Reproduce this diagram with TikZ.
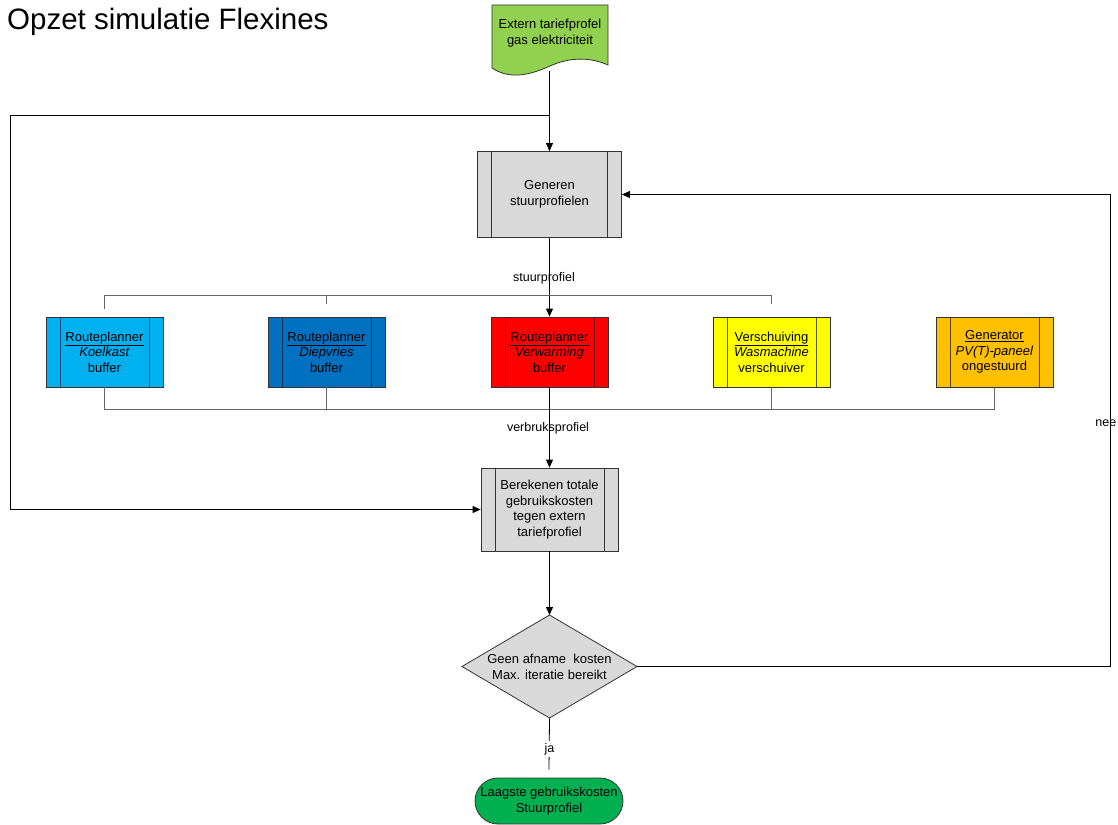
\documentclass[tikz,border=0pt]{standalone}
\usepackage{fontspec}
\setmainfont{Liberation Sans}
\usetikzlibrary{shapes.geometric,arrows.meta,calc}
\definecolor{docgreen}{HTML}{92D050}
\definecolor{procgray}{HTML}{D9D9D9}
\definecolor{koelblue}{HTML}{00B0F0}
\definecolor{diepblue}{HTML}{0070C0}
\definecolor{verwred}{HTML}{FF0000}
\definecolor{wasyellow}{HTML}{FFFF00}
\definecolor{genorange}{HTML}{FFC000}
\definecolor{endgreen}{HTML}{00B050}
\begin{document}
\begin{tikzpicture}[x=1pt,y=1pt,
  font=\fontsize{13}{15.5}\selectfont,
  procbox/.style={draw=black!80, line width=0.8pt, rectangle, align=center, inner sep=0pt,
    path picture={\draw[line width=0.8pt, draw=#1]
      ([xshift=14pt]path picture bounding box.north west) -- ([xshift=14pt]path picture bounding box.south west)
      ([xshift=-14pt]path picture bounding box.north east) -- ([xshift=-14pt]path picture bounding box.south east);}},
  procbox/.default=black!80,
  rowbox/.style={procbox=#1, minimum width=117, minimum height=70},
  conn/.style={draw=black, line width=0.8pt},
  arr/.style={conn, -{Triangle[length=8pt,width=7pt]}},
  bus/.style={draw=black!60, line width=0.8pt},
  lbl/.style={font=\fontsize{12.5}{14}\selectfont, inner sep=1pt}
]
\useasboundingbox (0,0) rectangle (1118,-824);

% title
\node[anchor=west, font=\fontsize{29.5}{32}\selectfont, inner sep=0pt] (title) at (7,-22) {Opzet simulatie Flexines};

% document shape
\draw[fill=docgreen, draw=black!80, line width=0.8pt]
  (492,-5) -- (608,-5) -- (608,-65)
  .. controls (590,-57) and (570,-57) .. (550,-66)
  .. controls (530,-75) and (510,-80) .. (492,-68) -- cycle;
\node[align=center, inner sep=0pt] (ext) at (550,-33) {Extern tariefprofel\\gas elektriciteit};
\coordinate (docb) at (549.5,-71);

% process boxes
\node[procbox, fill=procgray, minimum width=144, minimum height=86] (gen) at (549.5,-194.5) {Generen\\stuurprofielen};
\node[procbox, fill=procgray, minimum width=137, minimum height=83] (ber) at (549.5,-509.5) {Berekenen totale\\gebruikskosten\\tegen extern\\tariefprofiel};

\node[rowbox=koelblue!45!black, fill=koelblue] (koel) at (104.5,-352) {\underline{Routeplanner}\\\textit{Koelkast}\\buffer};
\node[rowbox=diepblue!45!black, fill=diepblue] (diep) at (326.5,-352) {\underline{Routeplanner}\\\textit{Diepvries}\\buffer};
\node[rowbox=verwred!45!black, fill=verwred] (verw) at (549.5,-352) {\underline{Routeplanner}\\\textit{Verwarming}\\buffer};
\node[rowbox=wasyellow!35!black, fill=wasyellow] (wasm) at (771.5,-352) {\underline{Verschuiving}\\\textit{Wasmachine}\\verschuiver};
\node[rowbox=genorange!35!black, fill=genorange] (genr) at (994.5,-352) {\underline{Generator}\\\textit{PV(T)-paneel}\\ongestuurd};

% decision (drawn explicitly) and terminator
\coordinate (diaN) at (549.5,-615);
\coordinate (diaE) at (637,-666.5);
\coordinate (diaS) at (549.5,-718);
\coordinate (diaW) at (462,-666.5);
\draw[draw=black!80, line width=0.8pt, fill=procgray] (diaN) -- (diaE) -- (diaS) -- (diaW) -- cycle;
\node[inner sep=0pt, align=center] (dia) at (549.5,-667) {Geen afname\ \ kosten\\Max. iteratie bereikt};
\node[draw=black!80, line width=0.8pt, fill=endgreen, rounded corners=23, minimum width=148, minimum height=46, inner sep=0pt, align=center] (end) at (549,-801) {Laagste gebruikskosten\\Stuurprofiel};

% connectors
\coordinate (split) at (549.5,-115);
\coordinate (lc) at (10,-115);
\draw[arr] (docb) -- (gen.north);
\draw[arr] (split) -- (lc) |- (ber.west);

\draw[arr] (gen.south) -- (verw.north);
\node[lbl] (sp) at (544,-278) {stuurprofiel};

% top bus
\coordinate (t1) at (104.5,-309);
\coordinate (t2) at (326.5,-304);
\coordinate (t4) at (771.5,-304);
\draw[bus] (t1) -- (104.5,-295) -- (771.5,-295) -- (t4);
\draw[bus] (t2) -- (326.5,-295);

% bottom bus
\draw[bus] (koel.south) -- (104.5,-409) -- (994.5,-409) -- (genr.south);
\draw[bus] (diep.south) -- (326.5,-409);
\draw[bus] (wasm.south) -- (771.5,-409);
\draw[arr] (verw.south) -- (ber.north);
\node[lbl] (vp) at (548,-428) {verbruksprofiel};

\draw[arr] (ber.south) -- (diaN);
\coordinate (rc) at (1110,-430);
\draw[arr] (diaE) -| (rc) |- (gen.east);
\node[lbl, anchor=east] (nee) at (1117.5,-423) {nee};

\draw[conn] (diaS) -- ([yshift=8]end.north);
\node[lbl, fill=white, inner sep=2pt] (ja) at (549.5,-749) {ja};
\end{tikzpicture}
\end{document}
